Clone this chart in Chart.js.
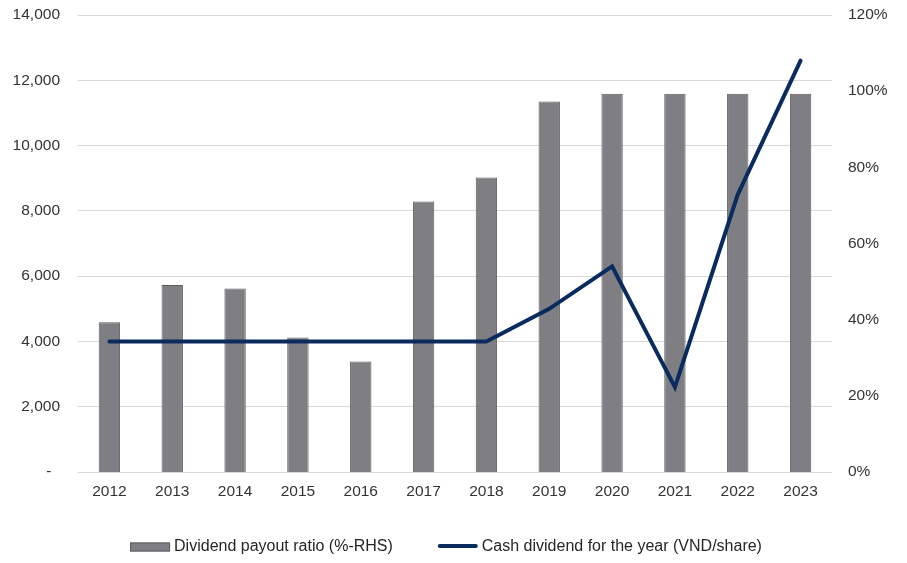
<!DOCTYPE html>
<html>
<head>
<meta charset="utf-8">
<script src="https://cdn.jsdelivr.net/npm/chart.js@4.4.1/dist/chart.umd.min.js"></script>
<style>
  html, body { margin: 0; padding: 0; background: #ffffff; }
  #wrap { width: 907px; height: 563px; position: relative; }
</style>
</head>
<body>
<div id="wrap"><canvas id="chart" width="907" height="563"></canvas></div>
<script>
// Years on the category axis
const years = ['2012', '2013', '2014', '2015', '2016', '2017', '2018', '2019', '2020', '2021', '2022', '2023'];
// Dividend payout ratio, % (right-hand axis)
const payoutRatio = [39.3, 49.1, 48.2, 35.3, 29.0, 71.0, 77.3, 97.3, 99.3, 99.3, 99.3, 99.3];
// Cash dividend for the year, VND per share (left-hand axis)
const cashDividend = [4000, 4000, 4000, 4000, 4000, 4000, 4000, 5000, 6300, 2600, 8500, 12600];
// Axis ranges
const leftTicks = { min: 0, max: 14000, step: 2000 };
const rightTicks = { min: 0, max: 120, step: 20 };
// Legend labels
const legendLabels = ['Dividend payout ratio (%-RHS)', 'Cash dividend for the year (VND/share)'];

const FONT = "'Liberation Sans', Arial, sans-serif";
const BAR_FILL = '#7f7f83';
const BAR_EDGE = '#5d5d61';
const LINE_COLOR = '#0b2b5e';
const TEXT_COLOR = '#333333';

// Bottom legend drawn straight onto the canvas
const bottomLegend = {
  id: 'bottomLegend',
  afterDraw(chart) {
    const ctx = chart.ctx;
    const boxW = 40, boxH = 9, gap = 4, itemGap = 45;
    ctx.save();
    ctx.font = '16px ' + FONT;
    ctx.textBaseline = 'middle';
    ctx.textAlign = 'left';
    const w0 = ctx.measureText(legendLabels[0]).width;
    const w1 = ctx.measureText(legendLabels[1]).width;
    const total = boxW + gap + w0 + itemGap + boxW + gap + w1;
    const center = (chart.chartArea.left + chart.chartArea.right) / 2 - 9;
    let x = center - total / 2;
    const y = 547;
    // bar swatch
    ctx.fillStyle = BAR_FILL;
    ctx.fillRect(x, y - boxH / 2, boxW, boxH);
    ctx.strokeStyle = BAR_EDGE;
    ctx.lineWidth = 1;
    ctx.strokeRect(x + 0.5, y - boxH / 2 + 0.5, boxW - 1, boxH - 1);
    x += boxW + gap;
    ctx.fillStyle = '#262626';
    ctx.fillText(legendLabels[0], x, y);
    x += w0 + itemGap;
    // line swatch
    ctx.strokeStyle = LINE_COLOR;
    ctx.lineWidth = 4;
    ctx.lineCap = 'round';
    ctx.beginPath();
    ctx.moveTo(x + 2, y - 1);
    ctx.lineTo(x + boxW - 2, y - 1);
    ctx.stroke();
    x += boxW + gap;
    ctx.fillStyle = '#262626';
    ctx.fillText(legendLabels[1], x, y);
    ctx.restore();
  }
};

// Fixed-width value axes whose labels may overhang the plot edges
function fitValueAxis(width) {
  return function (scale) {
    scale.width = width;
    scale.paddingTop = 0;
    scale.paddingBottom = 0;
  };
}

new Chart(document.getElementById('chart'), {
  type: 'bar',
  data: {
    labels: years,
    datasets: [
      {
        type: 'line',
        label: legendLabels[1],
        data: cashDividend,
        yAxisID: 'y',
        borderColor: LINE_COLOR,
        borderWidth: 4,
        borderCapStyle: 'round',
        borderJoinStyle: 'miter',
        pointRadius: 0,
        tension: 0,
        fill: false,
        order: 0
      },
      {
        type: 'bar',
        label: legendLabels[0],
        data: payoutRatio,
        yAxisID: 'y1',
        backgroundColor: BAR_FILL,
        borderColor: BAR_EDGE,
        borderWidth: 1,
        categoryPercentage: 1,
        barPercentage: 0.34,
        order: 1
      }
    ]
  },
  options: {
    responsive: false,
    animation: false,
    devicePixelRatio: 1,
    layout: { padding: { left: 0, right: 0, top: 15, bottom: 61 } },
    plugins: {
      legend: { display: false },
      tooltip: { enabled: false }
    },
    scales: {
      x: {
        grid: { display: false, drawTicks: false },
        border: { display: false },
        ticks: { color: TEXT_COLOR, font: { family: FONT, size: 15.5 }, padding: 10, maxRotation: 0 },
        afterFit(scale) { scale.height = 30; scale.paddingLeft = 0; scale.paddingRight = 0; }
      },
      y: {
        position: 'left',
        min: leftTicks.min,
        max: leftTicks.max,
        grid: { color: '#d9d9d9', lineWidth: 1, drawTicks: false },
        border: { display: false },
        ticks: {
          stepSize: leftTicks.step,
          color: TEXT_COLOR,
          font: { family: FONT, size: 15.5 },
          padding: 18,
          callback: v => v === 0 ? '-  ' : v.toLocaleString('en-US')
        },
        afterFit: fitValueAxis(78)
      },
      y1: {
        position: 'right',
        min: rightTicks.min,
        max: rightTicks.max,
        grid: { display: false, drawTicks: false },
        border: { display: false },
        ticks: {
          stepSize: rightTicks.step,
          color: TEXT_COLOR,
          font: { family: FONT, size: 15.5 },
          padding: 16,
          callback: v => v + '%'
        },
        afterFit: fitValueAxis(75)
      }
    }
  },
  plugins: [bottomLegend]
});
</script>
</body>
</html>
